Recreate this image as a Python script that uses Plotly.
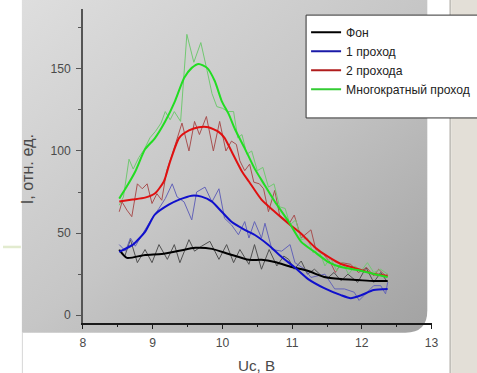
import base64
import plotly.graph_objects as go

W, H = 477, 373          # reference picture size (design coordinates)
FW, FH = 484, 376        # figure size (compensates the photographing scale)
SX = FW / W

# ---------------- data ----------------
bg_thin_x = [8.52, 8.60, 8.68, 8.78, 8.89, 8.99, 9.09, 9.21, 9.31, 9.39, 9.52, 9.60, 9.70, 9.82, 9.95,
             10.06, 10.16, 10.25, 10.38, 10.46, 10.56, 10.67, 10.78, 10.88, 10.95, 11.03, 11.13, 11.22,
             11.32, 11.42, 11.52, 11.60, 11.70, 11.80, 11.94, 12.06, 12.17, 12.27, 12.37]
bg_thin_y = [40, 36, 46, 32, 40, 32, 43, 34, 43, 32, 46, 39, 42, 45, 34,
             43, 32, 40, 31, 43, 28, 40, 30, 36, 34, 28, 33, 25,
             28, 24, 23, 26, 21, 25, 20, 29, 20, 26, 20]
bg_x = [8.52, 8.63, 8.89, 9.13, 9.38, 9.61, 9.85, 10.09, 10.38, 10.56, 10.75, 10.99, 11.23, 11.46,
        11.70, 11.94, 12.17, 12.37]
bg_y = [39.8, 34.9, 36.7, 37.3, 39.2, 41.0, 40.4, 37.3, 33.7, 33.7, 32.4, 29.4, 26.9, 23.3,
        22.0, 21.4, 20.8, 20.8]

p1_thin_x = [8.52, 8.61, 8.68, 8.75, 8.89, 8.99, 9.09, 9.18, 9.28, 9.35, 9.45, 9.56, 9.63, 9.75, 9.85,
             9.95, 10.03, 10.13, 10.23, 10.32, 10.38, 10.46, 10.56, 10.61, 10.71, 10.85, 10.97, 11.04,
             11.18, 11.27, 11.47, 11.61, 11.75, 11.89, 11.96, 12.07, 12.17, 12.27, 12.34, 12.37]
p1_thin_y = [43, 39, 47, 42, 52, 59, 65, 71, 80, 72, 69, 58, 75, 78, 69,
             77, 59, 55, 49, 57, 47, 57, 47, 56, 40, 39, 43, 32,
             28, 23, 25, 16, 16, 14, 9, 14, 18, 18, 13, 20]
p1_x = [8.52, 8.71, 8.89, 9.03, 9.23, 9.38, 9.56, 9.70, 9.85, 9.99, 10.13, 10.32, 10.46, 10.66,
        10.85, 11.03, 11.23, 11.46, 11.70, 11.84, 11.99, 12.17, 12.37]
p1_y = [38.6, 42.8, 50.8, 61.2, 67.3, 70.4, 72.8, 72.2, 69.2, 63.0, 56.9, 52.0, 49.0, 42.8,
        35.5, 29.4, 22.0, 16.5, 12.2, 10.4, 12.2, 15.3, 15.9]

p2_thin_x = [8.52, 8.56, 8.63, 8.70, 8.78, 8.85, 8.92, 8.99, 9.06, 9.13, 9.20, 9.28, 9.42, 9.52, 9.60,
             9.67, 9.77, 9.87, 9.96, 10.05, 10.13, 10.20, 10.25, 10.32, 10.39, 10.45, 10.53, 10.59,
             10.66, 10.75, 10.82, 10.96, 11.03, 11.13, 11.27, 11.34, 11.45, 11.55, 11.62, 11.71,
             11.84, 11.95, 12.07, 12.17, 12.24, 12.34, 12.37]
p2_thin_y = [63, 69, 64, 60, 80, 77, 80, 68, 74, 70, 88, 98, 117, 100, 118,
             110, 121, 100, 118, 100, 106, 104, 94, 88, 92, 81, 80, 77,
             63, 76, 61, 56, 61, 47, 52, 40, 37, 32, 26, 32,
             31, 26, 29, 24, 28, 24, 25]
p2_x = [8.52, 8.71, 8.89, 9.03, 9.16, 9.25, 9.38, 9.52, 9.66, 9.80, 9.95, 10.03, 10.13, 10.28,
        10.38, 10.56, 10.75, 10.95, 11.13, 11.32, 11.52, 11.70, 11.94, 12.17, 12.37]
p2_y = [69.2, 70.4, 71.6, 74.1, 81.4, 93.6, 108.0, 112.5, 114.5, 114.5, 111.5, 108.0, 99.8, 87.5,
        81.4, 70.4, 63.0, 55.7, 49.6, 41.6, 35.5, 31.2, 28.2, 25.1, 23.9]

pm_thin_x = [8.52, 8.58, 8.66, 8.72, 8.80, 8.88, 8.96, 9.04, 9.12, 9.18, 9.25, 9.31, 9.40, 9.49, 9.59,
             9.69, 9.78, 9.85, 9.92, 10.00, 10.08, 10.16, 10.22, 10.28, 10.35, 10.42, 10.50, 10.58,
             10.66, 10.74, 10.82, 10.90, 10.97, 11.05, 11.13, 11.22, 11.30, 11.38, 11.47, 11.55,
             11.64, 11.72, 11.81, 11.90, 11.99, 12.08, 12.17, 12.27, 12.37]
pm_thin_y = [67, 72, 95, 89, 96, 101, 108, 112, 117, 124, 119, 124, 118, 171, 154,
             166, 149, 135, 127, 126, 124, 124, 108, 110, 98, 100, 88, 90,
             78, 80, 66, 65, 55, 58, 46, 47, 38, 40, 30, 35,
             27, 32, 25, 30, 27, 32, 26, 28, 25]
pm_x = [8.52, 8.61, 8.75, 8.89, 9.03, 9.18, 9.32, 9.45, 9.56, 9.66, 9.78, 9.89, 9.99, 10.09, 10.18,
        10.32, 10.46, 10.60, 10.75, 10.95, 11.13, 11.32, 11.52, 11.70, 11.94, 12.17, 12.37]
pm_y = [71.0, 77.1, 87.5, 101.0, 107.7, 118.1, 130.4, 144.4, 150.6, 153.0, 150.6, 142.6, 130.4,
        122.4, 113.2, 101.6, 89.4, 79.6, 69.2, 56.9, 44.7, 38.6, 32.4, 29.4, 27.5, 25.1, 23.3]

names = ["Фон", "1 проход", "2 прохода", "Многократный проход"]
y_ticks = [0, 50, 100, 150]
x_ticks = [8, 9, 10, 11, 12, 13]


def px(v):
    return v / W


def py(v):
    return 1 - v / H


def fs(v):
    return v * SX


# ---------------- background (slide look) ----------------
svg = f'''<svg xmlns="http://www.w3.org/2000/svg" width="{W}" height="{H}" viewBox="0 0 {W} {H}" preserveAspectRatio="none">
<defs><linearGradient id="g" x1="0" y1="0" x2="1" y2="1">
<stop offset="0" stop-color="#dedede"/><stop offset="0.5" stop-color="#c6c6c6"/><stop offset="1" stop-color="#a2a2a2"/>
</linearGradient></defs>
<rect x="0" y="0" width="{W}" height="{H}" fill="#ffffff"/>
<path d="M19,0 H427 V308 Q427,330 405,330 H19 Z" fill="url(#g)"/>
<line x1="19.5" y1="330" x2="19.5" y2="{H}" stroke="#d6d6d6" stroke-width="1"/>
<line x1="0" y1="245" x2="18" y2="245" stroke="#e2ebcf" stroke-width="2.5"/>
<rect x="451" y="0" width="{W-451}" height="{H}" fill="#e3dfd7"/>
<line x1="450" y1="0" x2="450" y2="{H}" stroke="#bdbab4" stroke-width="1.5"/>
</svg>'''
src = "data:image/svg+xml;base64," + base64.b64encode(svg.encode()).decode()

fig = go.Figure()

thin = [
    (bg_thin_x, bg_thin_y, "#505050"),
    (p1_thin_x, p1_thin_y, "#6464b8"),
    (p2_thin_x, p2_thin_y, "#a85050"),
    (pm_thin_x, pm_thin_y, "#72c872"),
]
for xs, ys, c in thin:
    fig.add_trace(go.Scatter(x=xs, y=ys, mode="lines", line=dict(color=c, width=1),
                             showlegend=False, hoverinfo="skip"))

thick = [
    (bg_x, bg_y, "#000000"),
    (p1_x, p1_y, "#1010cc"),
    (p2_x, p2_y, "#e01010"),
    (pm_x, pm_y, "#22dd22"),
]
for xs, ys, c in thick:
    fig.add_trace(go.Scatter(x=xs, y=ys, mode="lines",
                             line=dict(color=c, width=2, shape="spline", smoothing=0.6),
                             showlegend=False))

leg_cols = ["#000000", "#1a1aa8", "#b01c1c", "#33cc33"]
for n, c in zip(names, leg_cols):
    fig.add_trace(go.Scatter(x=[None], y=[None], mode="lines", name=n,
                             line=dict(color=c, width=2)))

tickfont = dict(family="Liberation Sans, Arial, sans-serif", size=fs(12), color="#4a4a4a")

fig.update_layout(
    width=FW, height=FH, autosize=False,
    margin=dict(l=0, r=0, t=0, b=0),
    paper_bgcolor="#ffffff",
    plot_bgcolor="rgba(0,0,0,0)",
    images=[dict(source=src, xref="paper", yref="paper", x=0, y=1, sizex=1, sizey=1,
                 xanchor="left", yanchor="top", sizing="stretch", layer="below")],
    xaxis=dict(domain=[px(80.5), px(431.3)], range=[8, 13], tickvals=x_ticks,
               showgrid=False, zeroline=False, showline=True, linecolor="#1a1a1a", linewidth=1.5,
               ticks="outside", ticklen=5, tickwidth=1, tickcolor="#1a1a1a",
               minor=dict(dtick=0.5, tick0=8, ticks="outside", ticklen=3, tickcolor="#1a1a1a"),
               tickfont=tickfont, ticklabelstandoff=3),
    yaxis=dict(domain=[py(320), py(9)], range=[-4.48, 186.4], tickvals=y_ticks,
               showgrid=False, zeroline=False, showline=True, linecolor="#555555", linewidth=1.5,
               ticks="outside", ticklen=5, tickwidth=1, tickcolor="#555555",
               minor=dict(dtick=25, tick0=0, ticks="outside", ticklen=3, tickcolor="#555555"),
               tickfont=tickfont, ticklabelstandoff=3),
    legend=dict(x=px(305), y=py(17.5), xanchor="left", yanchor="top",
                bgcolor="rgba(0,0,0,0)", borderwidth=0,
                font=dict(family="Liberation Sans, Arial, sans-serif", size=fs(12), color="#222222"),
                tracegroupgap=0),
    shapes=[dict(type="rect", xref="paper", yref="paper", x0=px(305), x1=px(490),
                 y0=py(117), y1=py(15), fillcolor="#ffffff", line=dict(color="#333333", width=1),
                 layer="above")],
    annotations=[
        dict(text="I, отн. ед.", xref="paper", yref="paper", x=px(25), y=py(168),
             xanchor="center", yanchor="middle", textangle=-90, showarrow=False,
             font=dict(family="Liberation Sans, Arial, sans-serif", size=fs(16), color="#4a4a4a")),
        dict(text="Uc, В", xref="paper", yref="paper", x=px(255), y=py(363),
             xanchor="center", yanchor="middle", showarrow=False,
             font=dict(family="Liberation Sans, Arial, sans-serif", size=fs(15), color="#4a4a4a")),
    ],
)

fig.write_html("out.html")
